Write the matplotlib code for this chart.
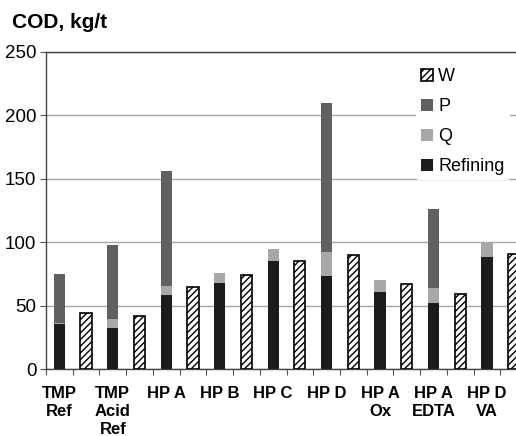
import matplotlib
matplotlib.use("Agg")
import matplotlib.pyplot as plt
import numpy as np

plt.rcParams['font.family'] = ['Liberation Sans', 'DejaVu Sans']
plt.rcParams['hatch.linewidth'] = 1.0

# data (kg/t)
categories = ["TMP\nRef", "TMP\nAcid\nRef", "HP A", "HP B", "HP C", "HP D",
              "HP A\nOx", "HP A\nEDTA", "HP D\nVA"]
refining = [35.5, 32.5, 58.5, 67.5, 85.0, 73.0, 60.5, 52.0, 88.5]
q_vals = [1.0, 7.0, 7.0, 8.0, 10.0, 19.5, 9.5, 12.0, 11.5]
p_vals = [38.5, 58.0, 90.5, 0.0, 0.0, 117.0, 0.0, 62.5, 0.0]
w_vals = [44.0, 42.0, 65.0, 74.5, 85.5, 90.0, 67.0, 59.5, 91.0]

fig = plt.figure(figsize=(5.16, 4.36), dpi=100)
ax = fig.add_axes([46 / 516, 67 / 436, 481 / 516, 317 / 436])

n = len(categories)
x_stack = np.arange(n) * 2
x_w = x_stack + 1
bw = 0.42

refining = np.array(refining)
q_vals = np.array(q_vals)
p_vals = np.array(p_vals)

b_ref = ax.bar(x_stack, refining, bw, color='#1c1c1c', zorder=3)
b_q = ax.bar(x_stack, q_vals, bw, bottom=refining, color='#a8a8a8', zorder=3)
b_p = ax.bar(x_stack, p_vals, bw, bottom=refining + q_vals, color='#606060', zorder=3)
b_w = ax.bar(x_w, w_vals, bw, color='white', edgecolor='black', hatch='/////',
             linewidth=1.2, zorder=3)

ax.set_xlim(-0.5, 2 * n - 0.5)
ax.set_ylim(0, 250)
ax.set_yticks([0, 50, 100, 150, 200, 250])
ax.grid(axis='y', color='#a6a6a6', linewidth=1.0, zorder=0)

# slot boundaries as ticks, category names centred under the stacked bars
ax.set_xticks(np.arange(-0.5, 2 * n, 1.0))
ax.set_xticklabels([])
ax.set_xticks(x_stack, minor=True)
ax.set_xticklabels(categories, minor=True, fontweight='bold', fontsize=12,
                   va='top', linespacing=1.25)
ax.tick_params(axis='x', which='minor', length=0, pad=12)
ax.tick_params(axis='x', which='major', length=4, color='#555555')
ax.tick_params(axis='y', length=4, labelsize=13.5, pad=3, color='#555555')

for s in ['left', 'bottom', 'top']:
    ax.spines[s].set_color('#444444')
    ax.spines[s].set_linewidth(1.0)
ax.spines['right'].set_visible(False)

fig.text(12 / 516, 1 - 22 / 436, "COD, kg/t", fontsize=15, fontweight='bold',
         va='center', ha='left')

leg = ax.legend([b_w, b_p, b_q, b_ref], ["W", "P", "Q", "Refining"],
                loc='upper left', bbox_to_anchor=(0.75, 0.995), fontsize=13,
                frameon=True, handlelength=0.65, handleheight=0.65,
                handletextpad=0.3, labelspacing=0.72, borderpad=0.3)
leg.get_frame().set_edgecolor('none')
leg.get_frame().set_facecolor('white')
leg.get_frame().set_alpha(1.0)
leg.set_zorder(5)

fig.savefig("out.png", dpi=100)
